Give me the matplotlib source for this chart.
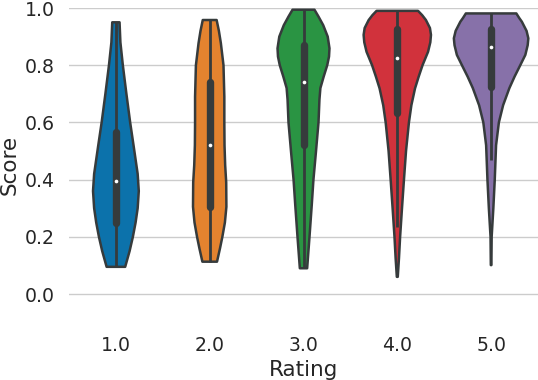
import numpy as np
import matplotlib
matplotlib.use('Agg')
import matplotlib.pyplot as plt

# ratings on the x axis
ratings = ['1.0', '2.0', '3.0', '4.0', '5.0']
colors = ['#0c72ab', '#e4832f', '#2a9443', '#d1323c', '#8771a9']

# density outline of each violin: score levels and half widths (category units)
score_1 = [0.095, 0.15, 0.20, 0.25, 0.30, 0.36, 0.42, 0.52, 0.60, 0.70, 0.80, 0.88, 0.95]
width_1 = [0.099, 0.146, 0.181, 0.210, 0.232, 0.244, 0.232, 0.188, 0.152, 0.112, 0.074, 0.048, 0.039]

score_2 = [0.113, 0.16, 0.20, 0.25, 0.305, 0.39, 0.45, 0.52, 0.60, 0.69, 0.80, 0.877, 0.92, 0.958]
width_2 = [0.078, 0.110, 0.135, 0.162, 0.178, 0.176, 0.165, 0.158, 0.156, 0.156, 0.147, 0.119, 0.098, 0.074]

score_3 = [0.09, 0.20, 0.311, 0.40, 0.498, 0.60, 0.68, 0.72, 0.76, 0.80, 0.83, 0.859, 0.90, 0.94, 0.97, 0.994]
width_3 = [0.039, 0.064, 0.088, 0.106, 0.133, 0.160, 0.170, 0.180, 0.215, 0.253, 0.272, 0.277, 0.258, 0.210, 0.160, 0.117]

score_4 = [0.06, 0.126, 0.20, 0.30, 0.40, 0.50, 0.60, 0.66, 0.719, 0.76, 0.80, 0.847, 0.88, 0.906, 0.93, 0.958, 0.975, 0.99]
width_4 = [0.005, 0.018, 0.030, 0.050, 0.071, 0.093, 0.124, 0.150, 0.189, 0.228, 0.269, 0.328, 0.352, 0.359, 0.348, 0.305, 0.265, 0.221]

score_5 = [0.101, 0.20, 0.30, 0.40, 0.52, 0.60, 0.66, 0.72, 0.76, 0.80, 0.836, 0.87, 0.894, 0.92, 0.952, 0.965, 0.981]
width_5 = [0.003, 0.006, 0.024, 0.039, 0.053, 0.083, 0.128, 0.195, 0.250, 0.311, 0.365, 0.390, 0.397, 0.378, 0.328, 0.300, 0.269]

scores = [score_1, score_2, score_3, score_4, score_5]
widths = [width_1, width_2, width_3, width_4, width_5]

# box statistics: lower whisker, q1, median, q3, upper whisker
whisk_lo = [0.095, 0.113, 0.09, 0.235, 0.469]
q1 = [0.247, 0.305, 0.521, 0.632, 0.725]
median = [0.396, 0.521, 0.742, 0.824, 0.865]
q3 = [0.567, 0.742, 0.871, 0.927, 0.927]
whisk_hi = [0.95, 0.958, 0.994, 0.99, 0.981]

edge = '#363b3c'
text_col = '#262626'

fig = plt.figure(figsize=(5.38, 3.8), dpi=100)
ax = fig.add_axes([69 / 538, 1 - 322.6 / 380, 469 / 538, (322.6 - 8) / 380])

for i in range(len(ratings)):
    y = np.array(scores[i])
    w = np.array(widths[i])
    xs = np.concatenate([i - w, (i + w)[::-1]])
    ys = np.concatenate([y, y[::-1]])
    ax.fill(xs, ys, facecolor=colors[i], edgecolor=edge, linewidth=1.8,
            joinstyle='round', zorder=2)
    ax.vlines(i, whisk_lo[i], whisk_hi[i], color=edge, linewidth=2.0, zorder=3)
    ax.vlines(i, q1[i], q3[i], color=edge, linewidth=5.3, zorder=3,
              capstyle='round')
    ax.scatter([i], [median[i]], s=7, color='white', zorder=4, linewidths=0)

ax.set_xlim(-0.5, len(ratings) - 0.5)
ax.set_ylim(-0.1, 1.0)
ax.set_xticks(range(len(ratings)))
ax.set_xticklabels(ratings)
ax.set_yticks([0.0, 0.2, 0.4, 0.6, 0.8, 1.0])
ax.set_yticklabels(['0.0', '0.2', '0.4', '0.6', '0.8', '1.0'])
ax.tick_params(length=0, pad=10, labelsize=13.6, colors=text_col)

ax.set_axisbelow(True)
ax.yaxis.grid(True, color='#cccccc', linewidth=1.0)
for s in ax.spines.values():
    s.set_visible(False)

ax.set_xlabel('Rating', fontsize=15.5, color=text_col, labelpad=3)
ax.set_ylabel('Score', fontsize=15.5, color=text_col, labelpad=4)

fig.savefig('out.png', dpi=100)
